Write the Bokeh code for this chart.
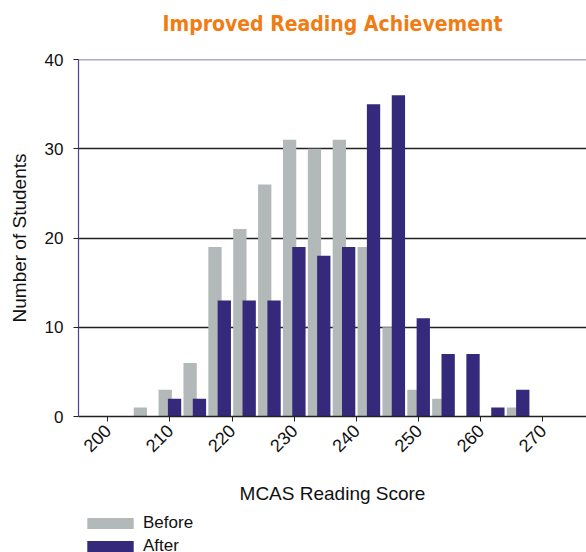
from bokeh.plotting import figure
from bokeh.models import Legend, LegendItem, FixedTicker, Range1d, Span
from bokeh.layouts import column
from bokeh.embed import file_html
from bokeh.resources import INLINE
import math

# ---- data ----
bin_centers = [206, 210, 214, 218, 222, 226, 230, 234, 238, 242, 246, 250, 254, 258, 262, 266]
before = [1, 3, 6, 19, 21, 26, 31, 30, 31, 19, 10, 3, 2, 0, 0, 1]
after = [0, 2, 2, 13, 13, 13, 19, 18, 19, 35, 36, 11, 7, 7, 1, 3]
x_ticks = [200, 210, 220, 230, 240, 250, 260, 270]
y_ticks = [0, 10, 20, 30, 40]
series_names = ["Before", "After"]
title_text = "Improved Reading Achievement"

GREY = "#b3b8b9"
PURPLE = "#34297b"
FONT = "Liberation Sans"

p = figure(width=586, height=512, output_backend="svg", toolbar_location=None,
           x_range=Range1d(195.3, 277.0), y_range=Range1d(0, 40),
           min_border_left=78, min_border_right=0, min_border_top=59,
           min_border_bottom=96)

# a blank second line lifts the title towards the top of the page
p.title.text = title_text + "\n"
p.title.align = "center"
p.title.vertical_align = "bottom"
p.title.text_color = "#f07d14"
p.title.text_font = "DejaVu Sans Condensed, sans-serif"
p.title.text_font_style = "bold"
p.title.text_font_size = "21px"
p.title.text_line_height = 1.0
p.title.standoff = 0

off = 0.75
bw = 2.14
xb = [c - off for c in bin_centers]
xa = [c + off for c in bin_centers]
rb = p.vbar(x=xb, top=before, width=bw, bottom=0, fill_color=GREY, line_color=None)
ra = p.vbar(x=xa, top=after, width=bw, bottom=0, fill_color=PURPLE, line_color=None)

p.outline_line_color = None
p.background_fill_color = "white"
p.border_fill_color = "white"
p.add_layout(Span(location=40, dimension="width", line_color="#5a52a0", line_width=1.5))

p.xgrid.grid_line_color = None
p.ygrid.grid_line_color = "#222222"
p.ygrid.grid_line_width = 1.3
p.ygrid.level = "underlay"

p.xaxis.ticker = FixedTicker(ticks=x_ticks)
p.yaxis.ticker = FixedTicker(ticks=y_ticks)
p.xaxis.minor_tick_line_color = None
p.yaxis.minor_tick_line_color = None

p.xaxis.axis_label = "MCAS Reading Score"
p.yaxis.axis_label = "Number of Students"
for ax in (p.xaxis, p.yaxis):
    ax.axis_label_text_font = FONT
    ax.axis_label_text_font_style = "normal"
    ax.axis_label_text_font_size = "19px"
    ax.axis_label_text_color = "#111111"
    ax.major_label_text_font = FONT
    ax.major_label_text_font_size = "17px"
    ax.major_label_text_color = "#111111"
    ax.major_tick_out = 5
    ax.major_tick_in = 0
    ax.major_tick_line_color = "#222222"

p.xaxis.axis_line_color = "#222222"
p.xaxis.axis_line_width = 1.5
p.xaxis.major_label_orientation = math.pi / 4
p.xaxis.major_label_standoff = 6
p.xaxis.major_label_text_font_size = "18px"
p.xaxis.axis_label_standoff = 22

p.yaxis.axis_line_color = "#4a4390"
p.yaxis.axis_line_width = 1.2
p.yaxis.major_label_standoff = 10
p.yaxis.axis_label_standoff = 12

# ---- legend strip below the chart (frames are aligned with the chart) ----
p2 = figure(width=586, height=40, output_backend="svg", toolbar_location=None,
            x_axis_type=None, y_axis_type=None, min_border=0,
            x_range=Range1d(0, 1), y_range=Range1d(0, 1))
p2.outline_line_color = None
p2.background_fill_color = "white"
p2.border_fill_color = "white"
lb = p2.vbar(x=[0.5], top=[0], bottom=0, width=0.1, fill_color=GREY, line_color=None)
la = p2.vbar(x=[0.5], top=[0], bottom=0, width=0.1, fill_color=PURPLE, line_color=None)
legend = Legend(items=[LegendItem(label=series_names[0], renderers=[lb]),
                       LegendItem(label=series_names[1], renderers=[la])],
                orientation="vertical", location=(3, -4),
                glyph_width=58, glyph_height=14, label_standoff=4,
                spacing=3, padding=0, margin=0,
                label_text_font=FONT, label_text_font_size="17px",
                label_text_color="#111111", label_height=20,
                background_fill_alpha=0, border_line_color=None)
p2.add_layout(legend)

layout = column(p, p2, spacing=0)
open("out.html", "w").write(file_html(layout, INLINE))
